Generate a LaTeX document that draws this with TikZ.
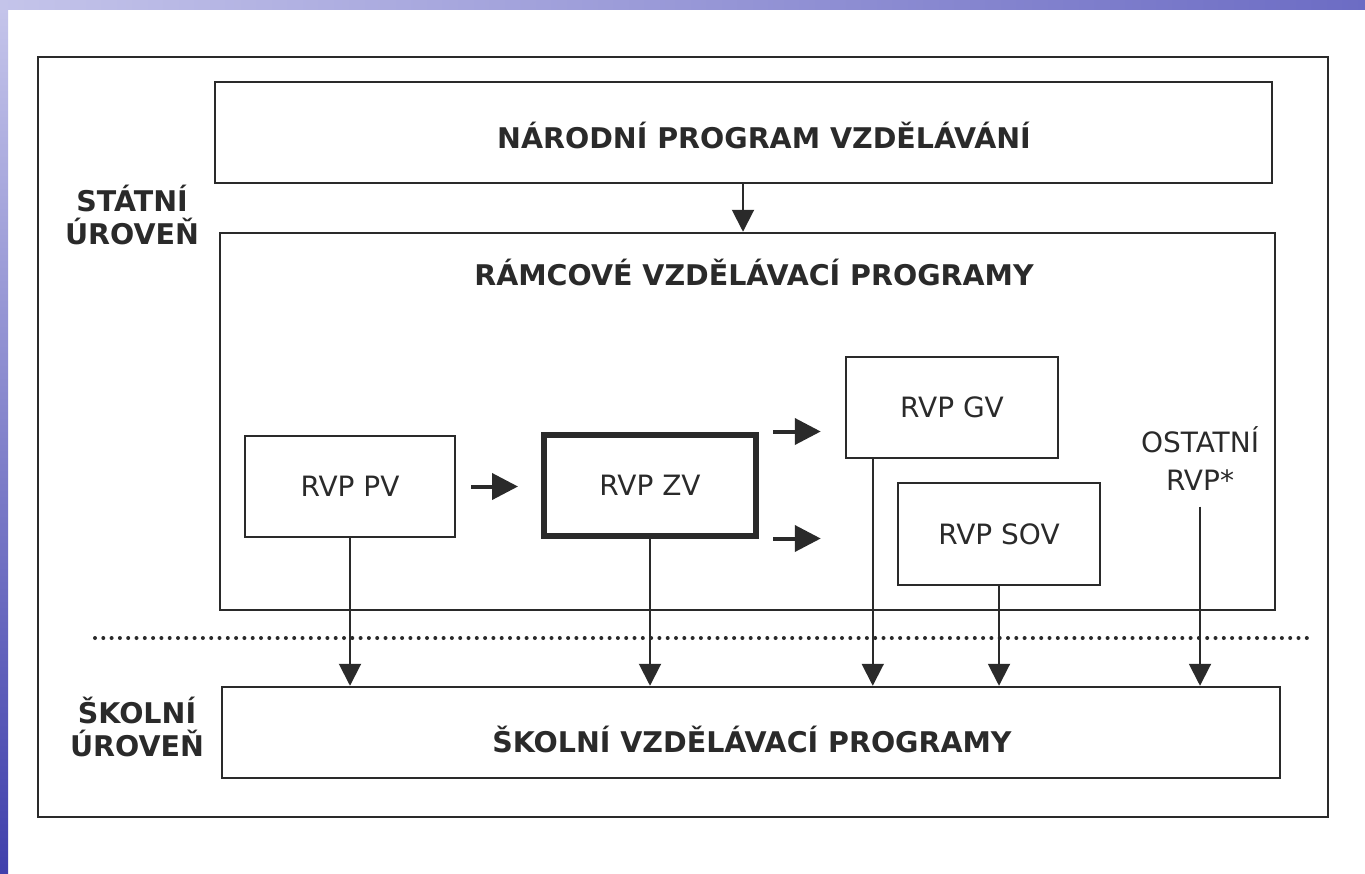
\documentclass[tikz,border=0pt]{standalone}
\usepackage{fontspec}
\setmainfont{DejaVu Sans}
\usetikzlibrary{arrows.meta}

\definecolor{ink}{RGB}{42,42,42}
\definecolor{slidelight}{RGB}{196,196,234}
\definecolor{slidemid}{RGB}{108,108,196}
\definecolor{slidedark}{RGB}{64,64,172}

\tikzset{
  box/.style={draw=ink, line width=2.5pt, text=ink, inner sep=0pt},
  heading/.style={text=ink, font=\fontsize{28.5}{33}\selectfont\bfseries, align=center},
  label/.style={text=ink, font=\fontsize{28}{38}\selectfont, align=center},
  varrow/.style={draw=ink, line width=2pt, -{Triangle[length=22pt,width=22pt]}},
  harrow/.style={draw=ink, line width=4pt, -{Triangle[length=26pt,width=26pt]}}
}

\begin{document}
\begin{tikzpicture}[x=1pt,y=-1pt]
\useasboundingbox (0,0) rectangle (1365,873);
\fill[white] (0,0) rectangle (1365,873);
\shade[left color=slidelight, right color=slidemid] (0,0) rectangle (1365,9);
\shade[top color=slidelight, bottom color=slidedark] (0,9) rectangle (8,873);

\node[box, minimum width=1290pt, minimum height=760pt] (frame) at (683,437) {};
\node[box, minimum width=1057pt, minimum height=101pt] (npv) at (743.5,132.5) {};
\node[heading] (npvtext) at (764,135) {NÁRODNÍ PROGRAM VZDĚLÁVÁNÍ};
\node[box, minimum width=1055pt, minimum height=377pt] (rvp) at (747.5,421.5) {};
\node[heading] (rvptitle) at (754,272) {RÁMCOVÉ VZDĚLÁVACÍ PROGRAMY};
\node[box, minimum width=1058pt, minimum height=91pt] (svp) at (751,732.5) {};
\node[heading] (svptext) at (752,739) {ŠKOLNÍ VZDĚLÁVACÍ PROGRAMY};

\node[heading] (statni) at (132,215) {STÁTNÍ\\ÚROVEŇ};
\node[heading] (skolni) at (137,727) {ŠKOLNÍ\\ÚROVEŇ};

\node[box, label, minimum width=210pt, minimum height=101pt] (pv) at (350,486.5) {RVP PV};
\node[box, label, line width=6pt, minimum width=212pt, minimum height=101pt] (zv) at (650,485) {RVP ZV};
\node[box, label, minimum width=212pt, minimum height=101pt] (gv) at (952,407.5) {RVP GV};
\node[box, label, minimum width=202pt, minimum height=102pt] (sov) at (999,534) {RVP SOV};
\node[label] (ostatni) at (1200,459) {OSTATNÍ\\RVP*};

% state level -> school level
\draw[varrow] (npv.south -| 743,0) -- (rvp.north -| 743,0);
\draw[harrow, shorten <=15pt, shorten >=23pt] (pv.east) -- (pv.east -| zv.west);
\draw[harrow, shorten <=14pt, shorten >=24pt] (zv.north east) -- (zv.north east -| gv.west);
\draw[harrow, shorten <=14pt, shorten >=24pt] (zv.south east) -- (zv.south east -| gv.west);
\draw[varrow] (pv.south) -- (pv.south |- svp.north);
\draw[varrow] (zv.south) -- (zv.south |- svp.north);
\draw[varrow] ([xshift=28pt]gv.south west) -- ([xshift=28pt]gv.south west |- svp.north);
\draw[varrow] (sov.south) -- (sov.south |- svp.north);
\draw[varrow, shorten <=12pt] (ostatni.south) -- (ostatni.south |- svp.north);

\draw[ink, line width=4pt, line cap=round, dash pattern=on 0pt off 8.3pt] (95,638) -- (1312,638);
\end{tikzpicture}
\end{document}
